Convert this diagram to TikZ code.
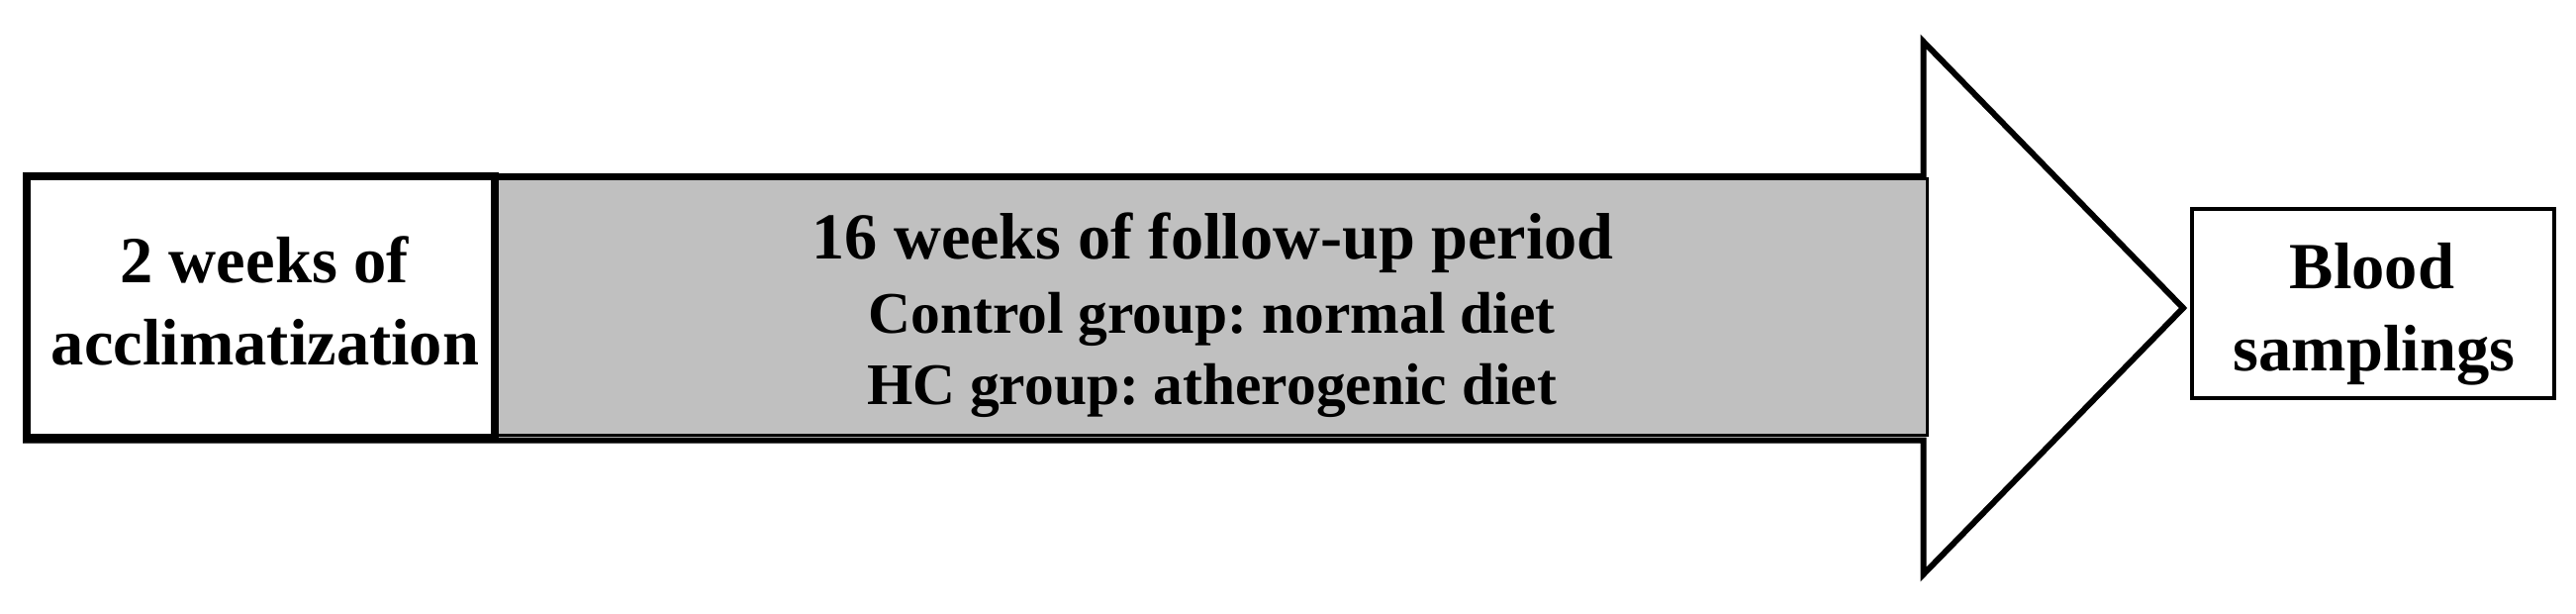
\documentclass[tikz,border=0pt]{standalone}
\usepackage{fontspec}
\setmainfont{Liberation Serif}
\frenchspacing
\begin{document}
\begin{tikzpicture}[x=1pt,y=-1pt]
\tikzset{
  arrowshape/.style={draw=black, fill=white, line width=6pt, line join=miter},
  graybox/.style={draw=black, fill={rgb,255:red,192;green,192;blue,192}, line width=3pt, inner sep=0pt, outer sep=0pt},
  whitebox/.style={draw=black, fill=white, line width=8pt, inner sep=0pt, outer sep=0pt},
  bloodbox/.style={draw=black, fill=white, line width=4pt, inner sep=0pt, outer sep=0pt},
  bigtxt/.style={inner sep=0pt, anchor=base, font=\fontsize{66.5}{80}\selectfont\bfseries},
  midtxt/.style={inner sep=0pt, anchor=base, font=\fontsize{59.5}{72}\selectfont\bfseries},
  toptxt/.style={inner sep=0pt, anchor=base, font=\fontsize{66.3}{80}\selectfont\bfseries}
}
\useasboundingbox (0,0) rectangle (2603,619);
% big arrow outline
\draw[arrowshape] (26,178) -- (1943.5,178) -- (1943.5,42) -- (2206,311) -- (1943.5,580) -- (1943.5,444.5) -- (26,444.5) -- cycle;
% boxes
\node[graybox, minimum width=1447.5pt, minimum height=258.5pt] (follow) at (1223.75,309.75) {};
\node[whitebox, minimum width=473.5pt, minimum height=264.5pt] (accl) at (263.25,309.75) {};
\node[bloodbox, minimum width=366pt, minimum height=191pt] (blood) at (2398,306.5) {};
% texts
\node[bigtxt] (accl1) at (267,285) {2 weeks of};
\node[bigtxt] (accl2) at (268,368) {acclimatization};
\node[toptxt] (fol1) at (1225.5,261) {16 weeks of follow-up period};
\node[midtxt] (fol2) at (1224.5,336) {Control group: normal diet};
\node[midtxt] (fol3) at (1224.5,408) {HC group: atherogenic diet};
\node[bigtxt] (blood1) at (2397,291) {Blood};
\node[bigtxt] (blood2) at (2399,374) {samplings};
\end{tikzpicture}
\end{document}
